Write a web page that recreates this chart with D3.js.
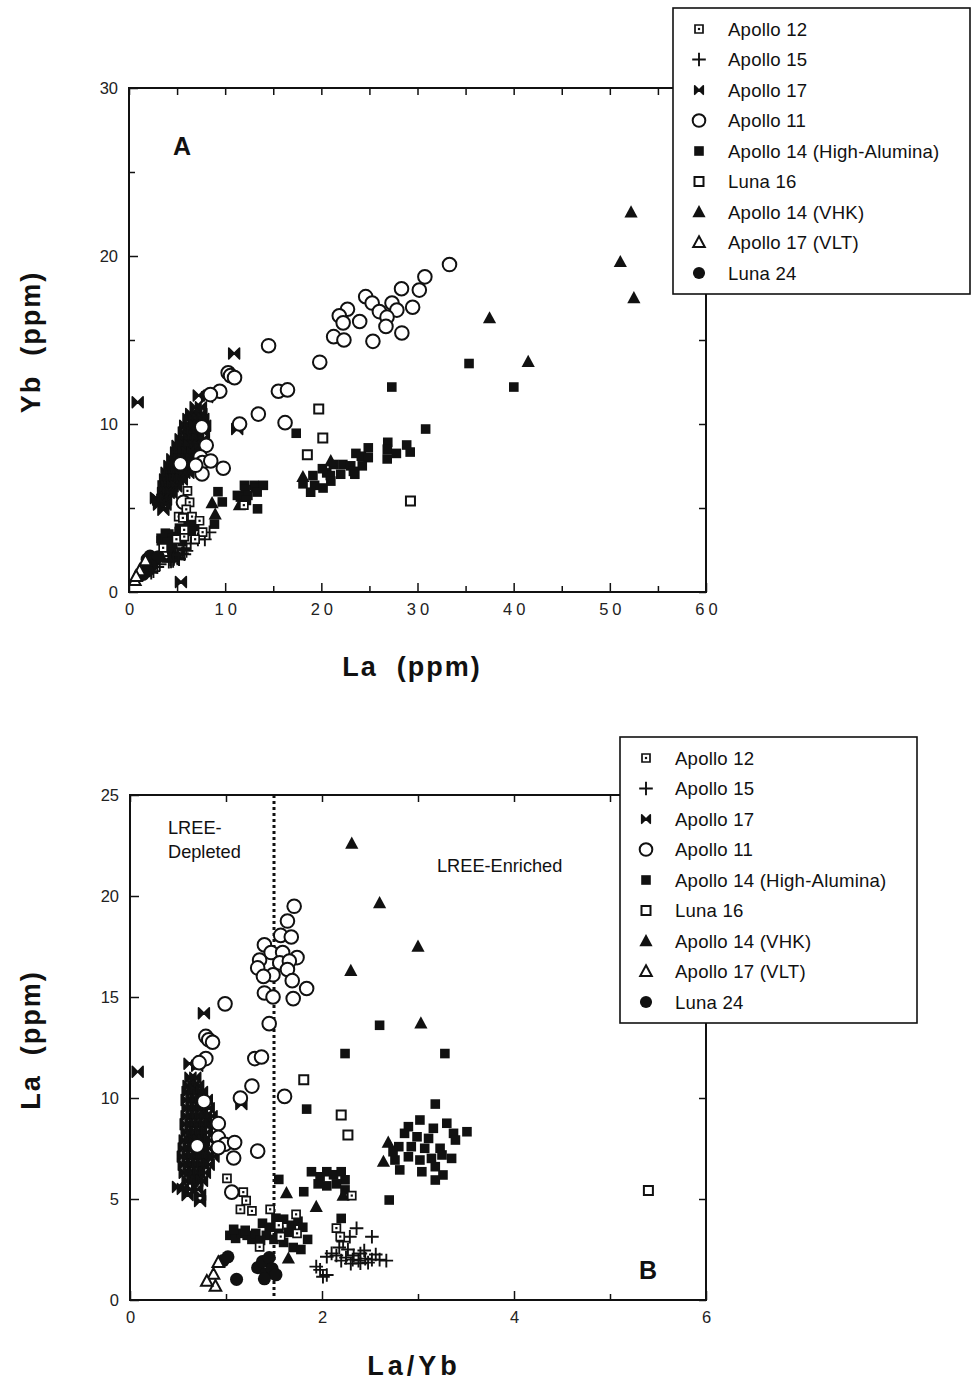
<!DOCTYPE html>
<html>
<head>
<meta charset="utf-8">
<script src="https://cdn.jsdelivr.net/npm/d3@7/dist/d3.min.js"></script>
<style>
  body{margin:0;background:#fff;}
  svg{display:block;font-family:"Liberation Sans",Arial,Helvetica,sans-serif;}
  .tick text{fill:#222;}
</style>
</head>
<body>
<svg id="chart" width="972" height="1382"></svg>
<script>
// each sample is [La/Yb, ppm]; panel A plots (ratio*ppm, ppm)
const apollo12=[[1.01,6.02],[1.18,5.34],[1.21,4.92],[1.15,4.49],[1.27,4.41],[1.46,4.49],[1.73,4.24],
  [1.57,3.14],[1.74,3.30],[1.35,2.63],[1.55,3.70],[2.31,5.17],[2.15,3.56],[2.19,3.14]];
const apollo15=[[2.52,3.13],[2.36,3.55],[2.29,3.13],[2.22,2.89],[2.10,2.31],[2.05,2.14],[2.15,2.20],
  [2.25,2.10],[2.32,2.00],[2.38,1.95],[2.45,2.05],[2.52,2.00],[2.60,2.00],[2.67,1.95],[2.30,1.80],
  [2.40,1.82],[2.20,1.95],[2.48,1.85],[1.94,1.65],[1.98,1.49],[2.05,1.24],[2.01,1.15],[2.27,2.50],
  [2.40,2.30],[2.18,2.60],[2.56,2.25],[2.33,2.20],[2.44,2.45]];
const apollo17=[[0.08,11.3],[0.77,14.2],[0.62,11.7],[0.70,11.6],[1.16,9.7],[9.0,0.6],
  [0.63,11.0],[0.68,11.0],
  [0.61,10.6],[0.66,10.6],[0.71,10.6],
  [0.60,10.3],[0.65,10.3],[0.70,10.3],[0.75,10.3],
  [0.59,9.9],[0.64,9.9],[0.69,9.9],[0.74,9.9],[0.80,9.9],
  [0.60,9.5],[0.65,9.5],[0.70,9.5],[0.75,9.5],[0.82,9.5],
  [0.59,9.1],[0.64,9.1],[0.69,9.1],[0.74,9.1],[0.79,9.1],[0.85,9.1],
  [0.58,8.7],[0.63,8.7],[0.68,8.7],[0.73,8.7],[0.78,8.7],[0.84,8.7],
  [0.59,8.3],[0.64,8.3],[0.69,8.3],[0.74,8.3],[0.80,8.3],
  [0.57,7.9],[0.62,7.9],[0.67,7.9],[0.72,7.9],[0.77,7.9],[0.83,7.9],
  [0.56,7.5],[0.61,7.5],[0.66,7.5],[0.71,7.5],[0.76,7.5],[0.82,7.5],
  [0.55,7.1],[0.60,7.1],[0.65,7.1],[0.70,7.1],[0.75,7.1],[0.81,7.1],[0.87,7.1],
  [0.56,6.7],[0.61,6.7],[0.66,6.7],[0.71,6.7],[0.76,6.7],[0.82,6.7],
  [0.57,6.3],[0.62,6.3],[0.67,6.3],[0.72,6.3],[0.78,6.3],
  [0.60,5.9],[0.65,5.9],[0.70,5.9],[0.75,5.9],
  [0.50,5.6],[0.55,5.5],[0.63,5.5],[0.70,5.5],[0.60,5.2],[0.73,5.2],[0.73,4.9]];
const apollo11=[[1.71,19.49],[1.64,18.76],[1.57,18.05],[1.68,17.97],[1.40,17.58],[1.47,17.20],[1.59,17.20],
  [1.35,16.83],[1.74,16.95],[1.56,16.69],[1.66,16.78],[1.33,16.44],[1.49,16.10],[1.64,16.36],[1.39,16.02],
  [1.69,15.81],[1.84,15.42],[1.40,15.20],[1.49,15.00],[1.70,14.92],[0.99,14.66],[1.45,13.68],[0.79,13.05],
  [0.82,12.88],[0.86,12.76],[1.30,11.95],[1.37,12.03],[0.79,11.95],[0.72,11.75],[1.27,10.59],[1.15,10.00],
  [1.61,10.08],[0.77,9.83],[0.92,8.73],[0.92,8.05],[0.99,7.71],[1.09,7.80],[1.08,7.03],[0.92,7.54],
  [0.70,7.63],[1.33,7.37],[1.06,5.34]];
const apollo14HA=[[2.24,12.2],[2.60,13.6],[3.28,12.2],[1.84,9.45],[3.18,9.7],[2.70,4.95],
  [3.51,8.33],[2.90,8.58],[3.02,8.91],[3.16,8.50],[3.30,8.75],[3.37,8.25],[3.39,7.92],[2.86,8.25],
  [2.99,8.08],[3.11,8.00],[2.80,7.59],[2.93,7.59],[3.07,7.51],[3.23,7.51],[2.76,6.93],[2.90,7.09],
  [3.02,6.93],[3.14,7.01],[3.25,7.18],[3.35,7.01],[2.81,6.44],[3.04,6.35],[3.18,6.60],[3.26,6.19],
  [3.18,5.94],[2.74,7.34],
  [1.55,5.97],[1.81,5.36],[1.89,6.35],[1.98,6.10],[2.05,6.35],[2.12,6.20],[2.20,6.35],[2.24,5.95],
  [1.96,5.75],[2.05,5.65],[2.15,5.75],[2.24,5.45],[2.20,4.04],
  [1.04,3.20],[1.10,3.05],[1.16,3.30],[1.22,3.20],[1.27,3.00],[1.31,3.30],[1.08,3.50],[1.20,3.45],
  [1.38,3.80],[1.45,3.60],[1.52,4.05],[1.60,4.00],[1.68,3.70],[1.75,3.90],[1.80,3.60],[1.42,3.20],
  [1.50,3.00],[1.60,2.85],[1.70,2.60],[1.78,2.50],[1.85,3.00],[1.55,3.45],[1.65,3.35],[1.36,2.95]];
const luna16=[[1.81,10.9],[2.20,9.16],[2.27,8.17],[5.40,5.42]];
const apollo14VHK=[[2.31,22.6],[2.60,19.65],[3.00,17.5],[2.30,16.3],[3.03,13.7],[2.69,7.8],[2.64,6.85],
  [1.63,5.3],[1.65,2.06],[2.22,5.17],[1.94,4.62]];
const apollo17VLT=[[0.92,1.86],[0.87,1.27],[0.89,0.68],[0.80,0.93]];
const luna24=[[0.97,1.95],[1.02,2.14],[1.11,1.02],[1.33,1.60],[1.38,1.90],[1.42,1.30],[1.45,2.10],
  [1.48,1.55],[1.52,1.25],[1.40,1.05]];

const seriesNames=["Apollo 12","Apollo 15","Apollo 17","Apollo 11","Apollo 14 (High-Alumina)",
  "Luna 16","Apollo 14 (VHK)","Apollo 17 (VLT)","Luna 24"];
const seriesData=[apollo12,apollo15,apollo17,apollo11,apollo14HA,luna16,apollo14VHK,apollo17VLT,luna24];
const seriesMarks=["sqdot","plus","bowtie","circle","square","opensq","tri","opentri","dot"];
// draw order so open markers sit on top of the dense filled clusters
const drawOrder=[4,2,1,6,8,3,0,5,7];

const xTicksA=[0,10,20,30,40,50,60];
const yTicksA=[0,10,20,30];
const xTicksB=[0,2,4,6];
const yTicksB=[0,5,10,15,20,25];

const svg=d3.select("#chart");

// marker shapes, centred at 0,0
function markPath(t,legend){
  switch(t){
    case "circle": return d3.symbol(d3.symbolCircle,legend?125:145)();
    case "dot": return d3.symbol(d3.symbolCircle,legend?115:135)();
    case "square": return "M-4.8,-4.8H4.8V4.8H-4.8Z";
    case "sqdot": return "M-4,-4H4V4H-4Z";
    case "opensq": return "M-4.5,-4.5H4.5V4.5H-4.5Z";
    case "tri": return "M0,-7L6.6,5.2H-6.6Z";
    case "opentri": return "M0,-6.2L5.8,4.5H-5.8Z";
    case "plus": return "M-6.8,0H6.8M0,-6.8V6.8";
    case "bowtie": {const s=(legend?4.3:5.4); return `M${-s},${-s}L0,0L${-s},${s}ZM${s},${-s}L0,0L${s},${s}Z`;}
  }
}
function drawMark(g,t,x,y,legend){
  const p=g.append("path").attr("d",markPath(t,legend)).attr("transform",`translate(${x},${y})`);
  if(t==="circle"||t==="opensq"||t==="opentri"){
    p.attr("fill","#fff").attr("stroke","#111").attr("stroke-width",2);
  }else if(t==="sqdot"){
    p.attr("fill","#fff").attr("stroke","#111").attr("stroke-width",1.7);
    g.append("rect").attr("x",x-1.1).attr("y",y-1.1).attr("width",2.2).attr("height",2.2).attr("fill","#111");
  }else if(t==="plus"){
    p.attr("fill","none").attr("stroke","#111").attr("stroke-width",1.9);
  }else if(t==="bowtie"){
    p.attr("fill","#111").attr("stroke","#111").attr("stroke-width",1.6).attr("stroke-linejoin","round");
  }else{
    p.attr("fill","#111");
  }
}

function styleAxis(g,fs,ls){
  g.select(".domain").remove();
  g.selectAll(".tick line").attr("stroke","#111").attr("stroke-width",1.5);
  g.selectAll(".tick text").attr("font-size",fs).attr("letter-spacing",ls||0);
}

function panel(opt){
  const g=svg.append("g");
  const x=opt.x, y=opt.y;
  const [x0,x1]=x.range(), [y0,y1]=y.range();

  // minor + major ticks on all four sides, pointing inward
  const ax=g.append("g").attr("transform",`translate(0,${y0})`)
    .call(d3.axisBottom(x).tickValues(opt.xTicks).tickSizeInner(-9).tickSizeOuter(0).tickPadding(11)
      .tickFormat(d3.format("d")));
  styleAxis(ax,16.5,opt.xls);
  if(opt.xls) ax.selectAll(".tick text").attr("dx",opt.xls/2);
  const axm=g.append("g").attr("transform",`translate(0,${y0})`)
    .call(d3.axisBottom(x).tickValues(opt.xMinor).tickSizeInner(-6).tickSizeOuter(0).tickFormat(""));
  styleAxis(axm,15);
  const axt=g.append("g").attr("transform",`translate(0,${y1})`)
    .call(d3.axisTop(x).tickValues(opt.xMinor.concat(opt.xTicks)).tickSizeInner(-7).tickSizeOuter(0).tickFormat(""));
  styleAxis(axt,15);

  const ay=g.append("g").attr("transform",`translate(${x0},0)`)
    .call(d3.axisLeft(y).tickValues(opt.yTicks).tickSizeInner(-9).tickSizeOuter(0).tickPadding(11)
      .tickFormat(d3.format("d")));
  styleAxis(ay,16.5);
  if(opt.yMinor.length){
    const aym=g.append("g").attr("transform",`translate(${x0},0)`)
      .call(d3.axisLeft(y).tickValues(opt.yMinor).tickSizeInner(-6).tickSizeOuter(0).tickFormat(""));
    styleAxis(aym,15);
  }
  const ayr=g.append("g").attr("transform",`translate(${x1},0)`)
    .call(d3.axisRight(y).tickValues(opt.yMinor.concat(opt.yTicks)).tickSizeInner(-7).tickSizeOuter(0).tickFormat(""));
  styleAxis(ayr,15);

  g.append("rect").attr("x",x0).attr("y",y1).attr("width",x1-x0).attr("height",y0-y1)
    .attr("fill","none").attr("stroke","#111").attr("stroke-width",2);

  const clipId="clip"+opt.id;
  g.append("clipPath").attr("id",clipId).append("rect")
    .attr("x",x0).attr("y",y1-8).attr("width",x1-x0+8).attr("height",y0-y1+16);

  if(opt.extra) opt.extra(g,x,y);

  const pts=g.append("g").attr("clip-path",`url(#${clipId})`);
  drawOrder.forEach(function(i){
    seriesData[i].forEach(function(d){
      const p=opt.pos(d);
      if(p[0]>x.domain()[1]+0.05*(x.domain()[1]-x.domain()[0])) return;
      drawMark(pts,seriesMarks[i],x(p[0]),y(p[1]));
    });
  });

  // axis titles
  g.append("text").attr("x",opt.xTitle[1]).attr("y",opt.xTitle[2]).attr("text-anchor","middle")
    .attr("font-size",27).attr("font-weight","bold").attr("fill","#111").attr("letter-spacing",opt.xTitle[3])
    .style("white-space","pre").text(opt.xTitle[0]);
  g.append("text").attr("transform",`translate(${opt.yTitle[1]},${opt.yTitle[2]}) rotate(-90)`)
    .attr("text-anchor","middle").attr("font-size",27).attr("font-weight","bold").attr("fill","#111")
    .attr("letter-spacing",2).style("white-space","pre").text(opt.yTitle[0]);

  g.append("text").attr("x",opt.tag[1]).attr("y",opt.tag[2]).attr("font-size",25)
    .attr("font-weight","bold").attr("fill","#111").text(opt.tag[0]);

  // legend box
  const lg=g.append("g").attr("transform",`translate(${opt.legend[0]},${opt.legend[1]})`);
  lg.append("rect").attr("width",297).attr("height",286).attr("fill","#fff")
    .attr("stroke","#111").attr("stroke-width",1.6);
  seriesNames.forEach(function(name,i){
    const ry=21+i*30.5;
    drawMark(lg,seriesMarks[i],26,ry,true);
    lg.append("text").attr("x",55).attr("y",ry+6.5).attr("font-size",18.6).attr("fill","#111")
      .attr("letter-spacing",0.2).text(name);
  });
}

panel({
  id:"A",
  x:d3.scaleLinear([0,60],[129,706]),
  y:d3.scaleLinear([0,30],[592,88]),
  xTicks:xTicksA, xMinor:[5,15,25,35,45,55], xls:4,
  yTicks:yTicksA, yMinor:[5,15,25],
  pos:d=>[d[0]*d[1],d[1]],
  xTitle:["La  (ppm)",412,676,2],
  yTitle:["Yb  (ppm)",40,342],
  tag:["A",173,155],
  legend:[673,8]
});

panel({
  id:"B",
  x:d3.scaleLinear([0,6],[130,706]),
  y:d3.scaleLinear([0,25],[1300,795]),
  xTicks:xTicksB, xMinor:[1,3,5], xls:0,
  yTicks:yTicksB, yMinor:[],
  pos:d=>[d[0],d[1]],
  xTitle:["La/Yb",414,1375,4],
  yTitle:["La  (ppm)",40,1040],
  tag:["B",639,1279],
  legend:[620,737],
  extra:function(g,x,y){
    g.append("line").attr("x1",x(1.5)).attr("x2",x(1.5)).attr("y1",y(25)).attr("y2",y(0))
      .attr("stroke","#111").attr("stroke-width",3).attr("stroke-dasharray","3,3");
    const fs=18.2;
    g.append("text").attr("x",168).attr("y",834).attr("font-size",fs).attr("fill","#111").text("LREE-");
    g.append("text").attr("x",168).attr("y",858).attr("font-size",fs).attr("fill","#111").text("Depleted");
    g.append("text").attr("x",437).attr("y",872).attr("font-size",fs).attr("fill","#111").text("LREE-Enriched");
  }
});
</script>
</body>
</html>
